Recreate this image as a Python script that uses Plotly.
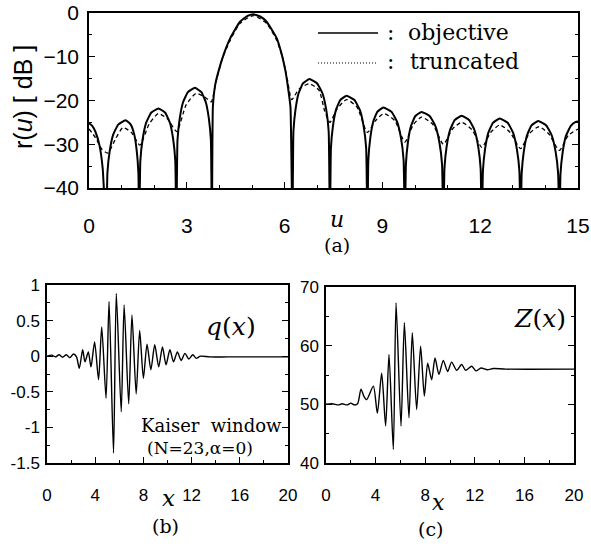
import plotly.graph_objects as go

# ---------------- (a) r(u) in dB ----------------
u_obj = [0, 0.1, 0.2, 0.32, 0.42, 0.53,
         0.565, 0.636, 0.742, 0.896, 1.12, 1.28, 1.389, 1.464, 1.515, 1.54,
         1.575, 1.646, 1.752, 1.906, 2.13, 2.339, 2.482, 2.581, 2.647, 2.68,
         2.714, 2.783, 2.885, 3.033, 3.25, 3.448, 3.583, 3.676, 3.739, 3.77,
         3.80, 3.87, 3.97, 4.14, 4.33, 4.63, 4.85, 5.04, 5.25, 5.45, 5.76, 5.91, 6.03, 6.10, 6.18, 6.24,
         6.271, 6.334, 6.427, 6.562, 6.76, 6.999, 7.163, 7.277, 7.352, 7.39,
         7.421, 7.482, 7.574, 7.706, 7.90, 8.143, 8.31, 8.425, 8.502, 8.54,
         8.569, 8.628, 8.716, 8.844, 9.03, 9.281, 9.452, 9.571, 9.65, 9.69,
         9.721, 9.782, 9.874, 10.006, 10.2, 10.455, 10.629, 10.749, 10.83, 10.87,
         10.904, 10.971, 11.072, 11.217, 11.43, 11.666, 11.827, 11.938, 12.013, 12.05,
         12.083, 12.149, 12.248, 12.391, 12.6, 12.843, 13.01, 13.125, 13.202, 13.24,
         13.272, 13.337, 13.434, 13.575, 13.78, 14.027, 14.196, 14.313, 14.391, 14.43,
         14.463, 14.53, 14.63, 14.78, 14.93, 15]
r_obj = [-25.2, -25.8, -27.2, -30.2, -35.5, -50,
         -36.5, -31.5, -27.8, -25.5, -24.5, -25.5, -27.8, -31.5, -36.5, -50,
         -33.8, -28.8, -25.1, -22.8, -21.8, -22.8, -25.1, -28.8, -33.8, -50,
         -29.1, -24.1, -20.4, -18.1, -17.1, -18.1, -20.4, -24.1, -29.1, -50,
         -21.5, -16.5, -13.4, -9.3, -5.8, -2.0, -0.7, -0.3, -0.8, -2.0, -5.8, -9.4, -13.4, -16.8, -21.5, -50,
         -27.1, -22.1, -18.4, -16.1, -15.1, -16.1, -18.4, -22.1, -27.1, -50,
         -30.9, -25.9, -22.2, -19.9, -18.9, -19.9, -22.2, -25.9, -30.9, -50,
         -33.6, -28.6, -24.9, -22.6, -21.6, -22.6, -24.9, -28.6, -33.6, -50,
         -34.6, -29.6, -25.9, -23.6, -22.6, -23.6, -25.9, -29.6, -34.6, -50,
         -35.5, -30.5, -26.8, -24.5, -23.5, -24.5, -26.8, -30.5, -35.5, -50,
         -36.1, -31.1, -27.4, -25.1, -24.1, -25.1, -27.4, -31.1, -36.1, -50,
         -36.7, -31.7, -28.0, -25.7, -24.7, -25.7, -28.0, -31.7, -36.7, -50,
         -36.8, -31.8, -28.1, -25.8, -24.9, -24.8]

u_trunc = [0, 0.2, 0.4, 0.58, 0.8, 1.04, 1.3, 1.56, 1.85, 2.13, 2.42, 2.69, 2.98, 3.28, 3.55, 3.75,
           3.9, 4.1, 4.33, 4.63, 5.04, 5.45, 5.76, 5.95, 6.08, 6.22,
           6.45, 6.76, 7.05, 7.23, 7.39, 7.6, 7.9, 8.22, 8.54, 8.8, 9.05, 9.38, 9.69,
           9.95, 10.2, 10.55, 10.87, 11.15, 11.43, 11.75, 12.05, 12.33, 12.6, 12.92, 13.24,
           13.5, 13.8, 14.1, 14.43, 14.7, 15]
r_trunc = [-26.5, -28.5, -31.2, -32.0, -29.0, -26.2, -27.3, -30.2, -25.3, -23.0, -24.3, -27.1, -21.0, -18.4, -19.2, -20.3,
           -15.5, -10.2, -6.3, -2.4, -0.6, -2.4, -6.3, -10.5, -15.0, -19.8,
           -17.3, -16.2, -17.6, -22.4, -25.0, -22.0, -19.8, -21.5, -27.3, -24.5, -23.0, -24.6, -29.5,
           -25.5, -23.8, -25.5, -30.0, -26.5, -25.0, -26.7, -30.7, -27.2, -25.6, -27.3, -31.0,
           -27.6, -26.0, -27.6, -31.4, -28.0, -26.5]

a_xticks = [0, 3, 6, 9, 12, 15]
a_yticks = [0, -10, -20, -30, -40]

# ---------------- (b) q(x) ----------------
x_q = [0, 0.4, 0.7, 1.0, 1.3, 1.6, 1.9, 2.2, 2.45, 2.68, 2.96, 3.15, 3.43, 3.65, 3.95, 4.28, 4.54, 4.9,
       5.15, 5.52, 5.75, 6.16, 6.4, 6.78, 7.05, 7.4, 7.69, 8.0, 8.3, 8.62, 8.94, 9.27, 9.58, 9.88,
       10.2, 10.5, 10.82, 11.13, 11.45, 11.77, 12.1, 12.4, 12.7, 13.5, 15, 20]
q_val = [0.0, 0.015, -0.01, 0.02, -0.015, 0.02, -0.02, 0.03, -0.01, -0.17, 0.09, -0.08, 0.06, -0.15, 0.20, -0.33, 0.41, -0.59,
         0.77, -1.36, 0.88, -0.78, 0.72, -0.67, 0.58, -0.53, 0.36, -0.31, 0.17, -0.19, 0.16, -0.15, 0.13, -0.12,
         0.09, -0.08, 0.06, -0.06, 0.04, -0.04, 0.02, -0.03, 0.0, -0.01, -0.01, -0.01]
b_xticks = [0, 4, 8, 12, 16, 20]
b_yticks = [1, 0.5, 0, -0.5, -1, -1.5]
b_yticklabels = ["1", "0.5", "0", "-0.5", "-1", "-1.5"]

# ---------------- (c) Z(x) ----------------
x_z = [0, 0.5, 1.0, 1.3, 1.7, 2.0, 2.3, 2.55, 2.82, 3.05, 3.28, 3.82, 4.14, 4.49, 4.81, 5.08, 5.43, 5.65,
       6.05, 6.32, 6.69, 6.96, 7.31, 7.63, 7.93, 8.2, 8.52, 8.79, 9.11, 9.46, 9.81, 10.13, 10.54, 10.94,
       11.26, 11.75, 12.1, 12.5, 13.0, 13.5, 14.5, 20]
z_val = [50.0, 50.1, 49.9, 50.1, 49.9, 50.2, 49.9, 50.1, 52.6, 51.4, 50.8, 53.1, 48.5, 55.3, 46.3, 58.5, 42.3, 67.3,
         46.3, 63.9, 47.7, 62.2, 49.1, 59.9, 51.4, 57.0, 54.2, 57.9, 55.1, 57.5, 55.6, 57.2, 55.8, 56.8,
         55.8, 56.5, 55.7, 56.2, 55.9, 56.1, 56.0, 56.0]
c_xticks = [0, 4, 8, 12, 16, 20]
c_yticks = [40, 50, 60, 70]

W, H = 591, 549
def px(x):
    return x / W
def py(y):
    return 1 - y / H

fig = go.Figure()
fig.add_trace(go.Scatter(x=u_trunc, y=r_trunc, mode="lines", xaxis="x", yaxis="y",
                         line=dict(color="black", width=1.3, dash="4px,3px", shape="spline", smoothing=0.6)))
fig.add_trace(go.Scatter(x=u_obj, y=r_obj, mode="lines", xaxis="x", yaxis="y",
                         line=dict(color="black", width=2, shape="spline", smoothing=0.4)))
fig.add_trace(go.Scatter(x=x_q, y=q_val, mode="lines", xaxis="x2", yaxis="y2",
                         line=dict(color="black", width=1.4, shape="spline", smoothing=0.7)))
fig.add_trace(go.Scatter(x=x_z, y=z_val, mode="lines", xaxis="x3", yaxis="y3",
                         line=dict(color="black", width=1.4, shape="spline", smoothing=0.7)))

sans = "Liberation Sans, Arial, sans-serif"
serif = "DejaVu Serif, serif"

def axis(domain, rng, tickvals, anchor, fontsize, standoff, minor_dtick, ticktext=None, mirror=True):
    d = dict(domain=domain, range=rng, tickvals=tickvals, anchor=anchor, automargin=False,
             showgrid=False, zeroline=False, showline=True, linecolor="black", linewidth=1.5,
             mirror=mirror, ticks="inside", ticklen=6, tickwidth=1.2, tickcolor="black",
             tickfont=dict(family=sans, size=fontsize, color="black"),
             ticklabelstandoff=standoff,
             minor=dict(ticks="inside", ticklen=3, tickwidth=1, tickcolor="black", dtick=minor_dtick, showgrid=False))
    if ticktext is not None:
        d["ticktext"] = ticktext
    return d

fig.update_layout(
    width=W, height=H, margin=dict(l=0, r=0, t=0, b=0, pad=0), autosize=False,
    paper_bgcolor="white", plot_bgcolor="white", showlegend=False,
    xaxis=axis([px(89), px(578)], [0, 15], a_xticks, "y", 21, 18, 1),
    yaxis=axis([py(188), py(13)], [-40, 0], a_yticks, "x", 21, 4, 5, mirror="ticks"),
    xaxis2=axis([px(47), px(288)], [0, 20], b_xticks, "y2", 17, 16, 2),
    yaxis2=axis([py(463), py(285)], [-1.5, 1], b_yticks, "x2", 17, 2, 0.25, ticktext=b_yticklabels, mirror="ticks"),
    xaxis3=axis([px(326), px(574)], [0, 20], c_xticks, "y3", 17, 16, 2),
    yaxis3=axis([py(463), py(287)], [40, 70], c_yticks, "x3", 17, 2, 5, mirror="ticks"),
)

def note(text, x, y, size, family=serif, xanchor="center", angle=0):
    fig.add_annotation(text=text, x=px(x), y=py(y), xref="paper", yref="paper",
                       showarrow=False, xanchor=xanchor, yanchor="middle", textangle=angle,
                       font=dict(family=family, size=size, color="black"))

# legend of (a)
fig.add_shape(type="line", xref="paper", yref="paper", x0=px(318), x1=px(378), y0=py(33), y1=py(33),
              line=dict(color="black", width=1.5))
fig.add_shape(type="line", xref="paper", yref="paper", x0=px(318), x1=px(378), y0=py(63), y1=py(63),
              line=dict(color="black", width=1.2, dash="1px,2px"))
note(":", 391, 33, 22)
note(":", 391, 62, 22)
note("objective", 406, 33, 22, xanchor="left")
note("truncated", 408, 62, 22, xanchor="left")

# axis titles and captions
note("r(<i>u</i>) [ dB ]", 23, 97, 25, family=sans, angle=-90)
note("<i>u</i>", 337, 219, 22)
note("(a)", 337, 245, 19)
note("<i>q</i>(<i>x</i>)", 231, 326, 25)
note("Kaiser  window", 211, 425, 18)
note("(N=23,α=0)", 200, 448, 17)
note("<i>x</i>", 168, 498, 23)
note("(b)", 166, 526, 19)
note("<i>Z</i>(<i>x</i>)", 540, 318, 25)
note("<i>x</i>", 438, 502, 22)
note("(c)", 430, 529, 19)

fig.write_html("out.html", config={"responsive": False, "displayModeBar": False},
               post_script="document.body.style.margin='0';document.body.style.padding='0';document.body.style.overflow='hidden';")
